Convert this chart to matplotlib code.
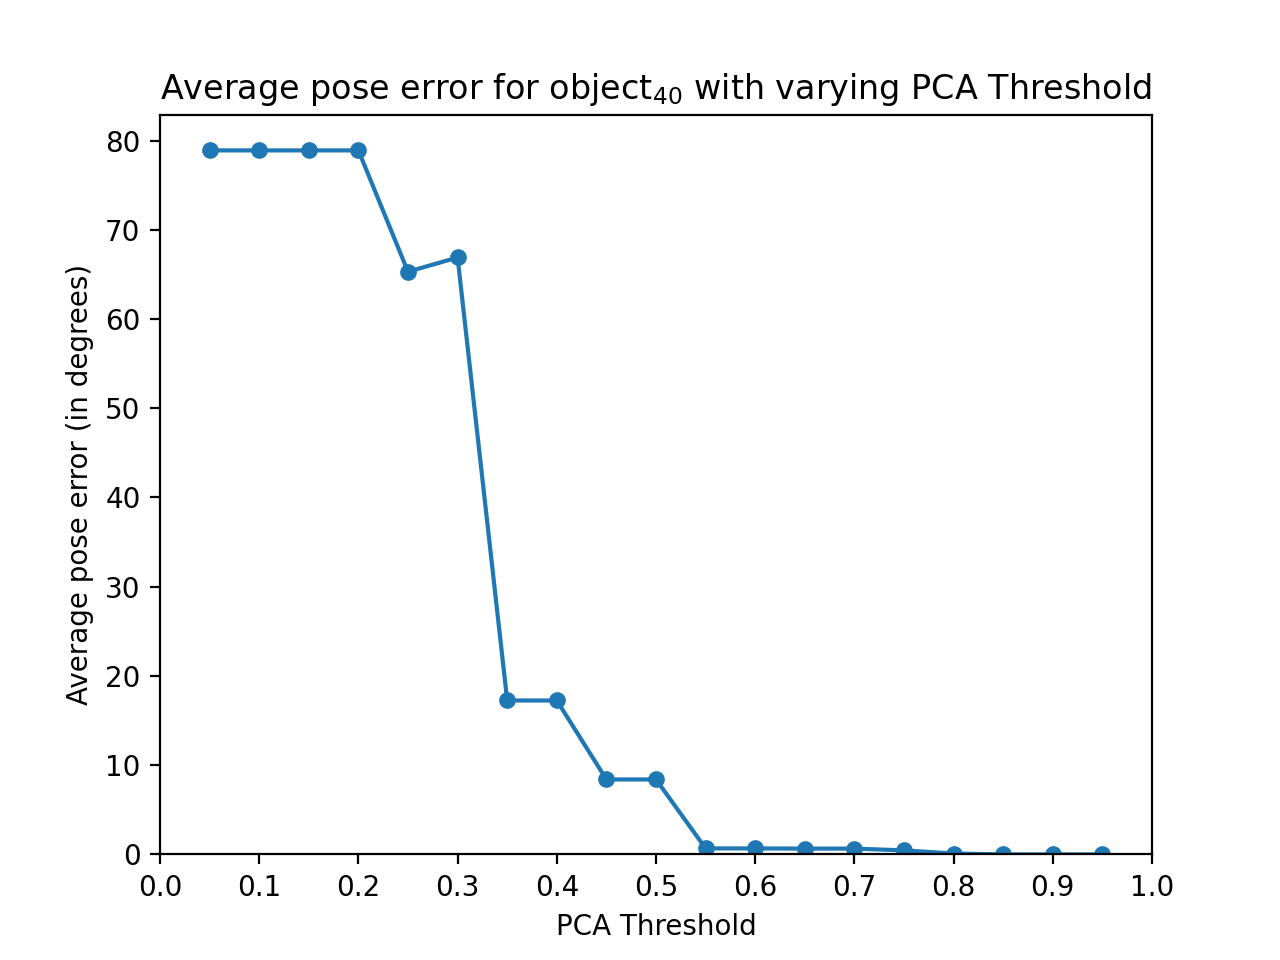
import matplotlib
matplotlib.use("Agg")
import matplotlib.pyplot as plt

thresholds = [0.05, 0.1, 0.15, 0.2, 0.25, 0.3, 0.35, 0.4, 0.45, 0.5, 0.55, 0.6, 0.65, 0.7, 0.75, 0.8, 0.85, 0.9, 0.95]
errors = [78.9, 78.9, 78.9, 78.9, 65.3, 66.9, 17.25, 17.25, 8.4, 8.4, 0.67, 0.67, 0.65, 0.65, 0.45, 0.1, 0.0, 0.0, 0.0]
xticks = [0.0, 0.1, 0.2, 0.3, 0.4, 0.5, 0.6, 0.7, 0.8, 0.9, 1.0]

fig, ax = plt.subplots(figsize=(6.4, 4.8), dpi=200)
ax.plot(thresholds, errors, marker='o', markersize=5)
ax.set_xlim(0, 1)
ax.set_xticks(xticks)
ax.set_ylim(0, max(errors) * 1.05)
ax.set_title(r"Average pose error for object$_{40}$ with varying PCA Threshold")
ax.set_xlabel("PCA Threshold")
ax.set_ylabel("Average pose error (in degrees)")
fig.savefig("out.png")
